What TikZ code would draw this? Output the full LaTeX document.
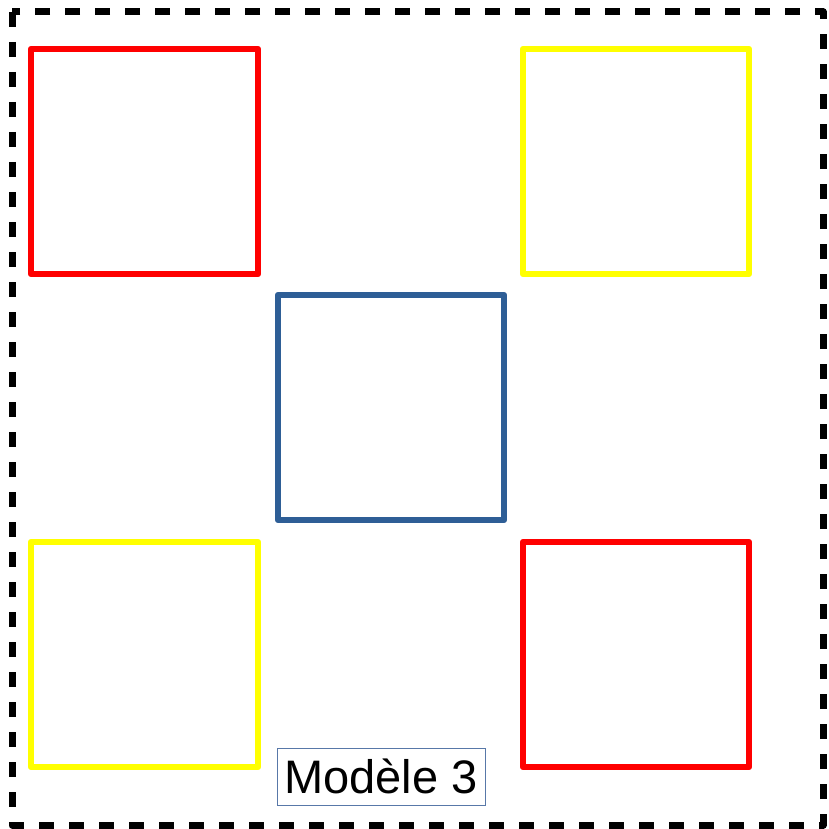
\documentclass[tikz,border=0pt]{standalone}
\usepackage{fontspec}
\setmainfont{Liberation Sans}
\definecolor{sqred}{HTML}{FF0000}
\definecolor{sqyellow}{HTML}{FFFF00}
\definecolor{sqblue}{HTML}{2E5E96}
\definecolor{lblframe}{HTML}{5878A8}
\begin{document}
\begin{tikzpicture}[x=1pt,y=-1pt,
  sqbox/.style={line width=6.5pt, line join=round},
  frameline/.style={line width=7pt, dash pattern=on 15pt off 15pt, line join=round},
  lbl/.style={draw=lblframe, line width=0.9pt, minimum width=208pt, minimum height=57pt, inner sep=0pt, font=\fontsize{47}{56}\selectfont}]
\useasboundingbox (0,0) rectangle (828,829);
\draw[frameline] (12,12) rectangle (823,825);
\draw[sqbox, sqred] (31,49) rectangle (258,274);
\draw[sqbox, sqyellow] (523,49) rectangle (749,274);
\draw[sqbox, sqblue] (278,295) rectangle (504,520);
\draw[sqbox, sqyellow] (31,542) rectangle (258,767);
\draw[sqbox, sqred] (523,542) rectangle (749,767);
\node[lbl] (label) at (381,776.5) {Modèle 3};
\end{tikzpicture}
\end{document}
